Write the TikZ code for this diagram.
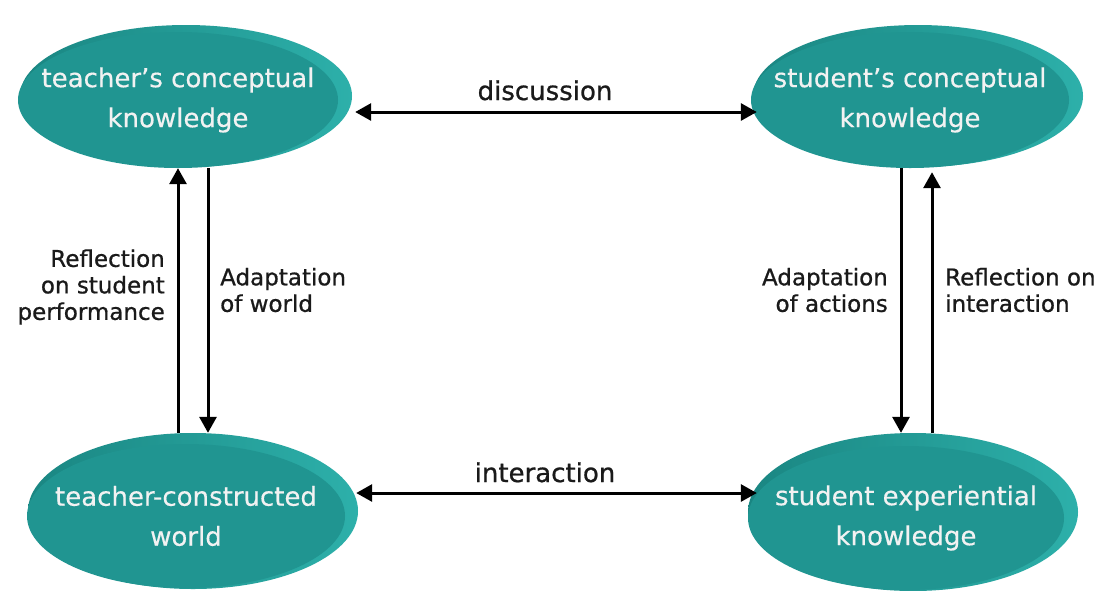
\documentclass[tikz,border=0pt]{standalone}
\usepackage{fontspec}
\setmainfont{DejaVu Sans}
\newfontfamily\lblfont[FakeBold=0.8]{DejaVu Sans}
\newfontfamily\elfont[FakeBold=0.4]{DejaVu Sans}
\usetikzlibrary{shapes.geometric,arrows.meta,calc}
\definecolor{tealmain}{HTML}{209591}
\definecolor{tealdark}{HTML}{1A8682}
\definecolor{teallight}{HTML}{2DB0AA}
\definecolor{ink}{HTML}{1A1A1A}
\definecolor{etext}{HTML}{F2F2F2}
\begin{document}
\begin{tikzpicture}[x=1pt,y=-1pt,
  ebody/.style={ellipse, fill=tealmain, inner xsep=-30pt, inner ysep=0pt, text=etext, align=center,
    font=\elfont\fontsize{26}{40}\selectfont},
  eback/.style={ellipse, inner sep=0pt, left color=tealdark, right color=teallight},
  lbl/.style={text=ink, font=\lblfont\fontsize{23}{26.5}\selectfont, inner sep=0pt},
  arr/.style={-{Triangle[length=16pt,width=17pt]}, line width=3pt, draw=black},
  darr/.style={{Triangle[length=16pt,width=17pt]}-{Triangle[length=16pt,width=17pt]}, line width=3pt, draw=black}]
\fill[white] (0,0) rectangle (1107,590);
\useasboundingbox (0,0) rectangle (1107,590);

% back ellipses
\node[eback, minimum width=332pt, minimum height=142pt] (tlb) at (186,96) {};
\node[eback, minimum width=330pt, minimum height=142pt] (trb) at (918,96) {};
\node[eback, minimum width=330pt, minimum height=156pt] (blb) at (193,511) {};
\node[eback, minimum width=330pt, minimum height=158pt] (brb) at (913,512) {};

% main ellipses
\node[ebody, minimum width=320pt, minimum height=136pt] (tl) at (178,100) {teacher’s conceptual\\knowledge};
\node[ebody, minimum width=318pt, minimum height=136pt] (tr) at (910,100) {student’s conceptual\\knowledge};
\node[ebody, minimum width=318pt, minimum height=144pt] (bl) at (186,516) {teacher-constructed\\world};
\node[ebody, minimum width=316pt, minimum height=144pt] (br) at (906,518) {student experiential\\knowledge};

% helper coordinates
\coordinate (xa) at (178,0);
\coordinate (xb) at (208,0);
\coordinate (xc) at (901,0);
\coordinate (xd) at (932,0);
\coordinate (yd) at (0,112);
\coordinate (yi) at (0,493);

% connectors
\draw[darr] ([xshift=3pt]tlb.east |- yd) -- ([xshift=6pt]tr.west |- yd);
\draw[darr] ([xshift=-2pt]blb.east |- yi) -- ([xshift=9pt]brb.west |- yi);
\draw[arr] (blb.north -| xa) -- (tl.south -| xa);
\draw[arr] (tl.south -| xb) -- (blb.north -| xb);
\draw[arr] (tr.south -| xc) -- (brb.north -| xc);
\draw[arr] (brb.north -| xd) -- ([yshift=-4pt]tr.south -| xd);

% labels
\node[lbl, font=\lblfont\fontsize{26}{30}\selectfont, anchor=base] (ldisc) at (545,100) {discussion};
\node[lbl, font=\lblfont\fontsize{26}{30}\selectfont, anchor=base] (linter) at (545,482) {interaction};
\node[lbl, align=right, anchor=east] (lrefl) at (165,287) {Reflection\\on student\\performance};
\node[lbl, align=left, anchor=west] (ladw) at (220,290) {Adaptation\\of world};
\node[lbl, align=right, anchor=east] (lada) at (888,290) {Adaptation\\of actions};
\node[lbl, align=left, anchor=west] (lrefi) at (945,290) {Reflection on\\interaction};
\end{tikzpicture}
\end{document}
